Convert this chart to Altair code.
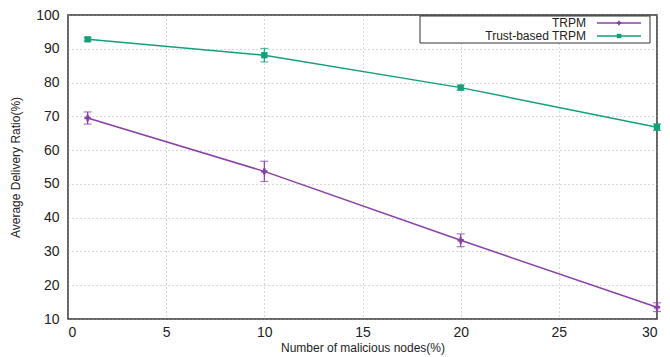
import altair as alt
import pandas as pd

x_vals = [1, 10, 20, 30]
trpm = [69.5, 53.7, 33.3, 13.5]
trpm_err = [1.8, 3.0, 1.9, 1.3]
trust = [92.8, 88.1, 78.5, 66.8]
trust_err = [0.5, 2.0, 0.7, 1.0]
series_names = ["TRPM", "Trust-based TRPM"]
colors = ["#8a3fa8", "#12a07a"]
x_ticks = [0, 5, 10, 15, 20, 25, 30]
y_ticks = [10, 20, 30, 40, 50, 60, 70, 80, 90, 100]

rows = []
for name, vals, errs in [(series_names[0], trpm, trpm_err), (series_names[1], trust, trust_err)]:
    for x, v, e in zip(x_vals, vals, errs):
        rows.append({"x": x, "y": v, "lo": v - e, "hi": v + e, "series": name})
df = pd.DataFrame(rows)

color = alt.Color("series:N", scale=alt.Scale(domain=series_names, range=colors), legend=None)
xscale = alt.Scale(domain=[0, 30], nice=False)
yscale = alt.Scale(domain=[10, 100], nice=False)
xaxis = alt.Axis(values=x_ticks, title="Number of malicious nodes(%)")
yaxis = alt.Axis(values=y_ticks, title="Average Delivery Ratio(%)")


def X(f):
    return alt.X(f, scale=xscale, axis=xaxis)


def Y(f):
    return alt.Y(f, scale=yscale, axis=yaxis)


base = alt.Chart(df)
lines = base.mark_line(strokeWidth=1.5).encode(x=X("x:Q"), y=Y("y:Q"), color=color)
err = base.mark_rule(strokeWidth=1.2).encode(x=X("x:Q"), y=Y("lo:Q"), y2="hi:Q", color=color)
cap_lo = base.mark_tick(thickness=1.2, size=8, orient="horizontal").encode(x=X("x:Q"), y=Y("lo:Q"), color=color)
cap_hi = base.mark_tick(thickness=1.2, size=8, orient="horizontal").encode(x=X("x:Q"), y=Y("hi:Q"), color=color)
pts = base.mark_point(filled=True, size=40, opacity=1).encode(
    x=X("x:Q"), y=Y("y:Q"), color=color,
    shape=alt.Shape("series:N", scale=alt.Scale(domain=series_names, range=["cross", "square"]), legend=None))

# manual gnuplot-style legend (text left of sample)
leg = pd.DataFrame({"series": series_names, "row": [0, 1]})
rowscale = alt.Scale(domain=[0, 1], range=[8, 21])
leg_box = alt.Chart(pd.DataFrame({"a": [0]})).mark_rect(fill="white", stroke="#333", strokeWidth=1).encode(
    x=alt.value(352), x2=alt.value(582), y=alt.value(1), y2=alt.value(28))
leg_text = alt.Chart(leg).mark_text(align="right", baseline="middle", fontSize=12, font="Liberation Sans", color="#222").encode(
    text="series:N", x=alt.value(518), y=alt.Y("row:Q", scale=rowscale, axis=None))
leg_line = alt.Chart(leg).mark_rule(strokeWidth=1.5).encode(
    x=alt.value(529), x2=alt.value(573),
    y=alt.Y("row:Q", scale=rowscale, axis=None), color=color)
leg_pt = alt.Chart(leg).mark_point(filled=True, size=20, opacity=1).encode(
    x=alt.value(551), y=alt.Y("row:Q", scale=rowscale, axis=None), color=color,
    shape=alt.Shape("series:N", scale=alt.Scale(domain=series_names, range=["cross", "square"]), legend=None))

main = alt.layer(lines, err, cap_lo, cap_hi, pts)
legend = alt.layer(leg_box, leg_line, leg_pt, leg_text)

chart = alt.layer(main, legend).resolve_scale(y="independent").properties(
    width=589, height=304, padding={"left": 60, "top": 7, "right": 5, "bottom": 45},
    autosize=alt.AutoSizeParams(type="none")
).configure_view(stroke="#333", strokeWidth=1.5).configure_axis(
    grid=True, gridColor="#999", gridDash=[1, 3], gridWidth=0.8,
    domain=False, ticks=False, labelOverlap=False,
    labelFont="Liberation Sans", labelFontSize=14, labelColor="#222",
    titleFont="Liberation Sans", titleFontSize=12, titleFontWeight="normal", titleColor="#222"
).configure_axisX(labelPadding=6, titlePadding=3).configure_axisY(labelPadding=9, titlePadding=13)

chart.save("out.html", embed_options={"renderer": "svg", "actions": False})
